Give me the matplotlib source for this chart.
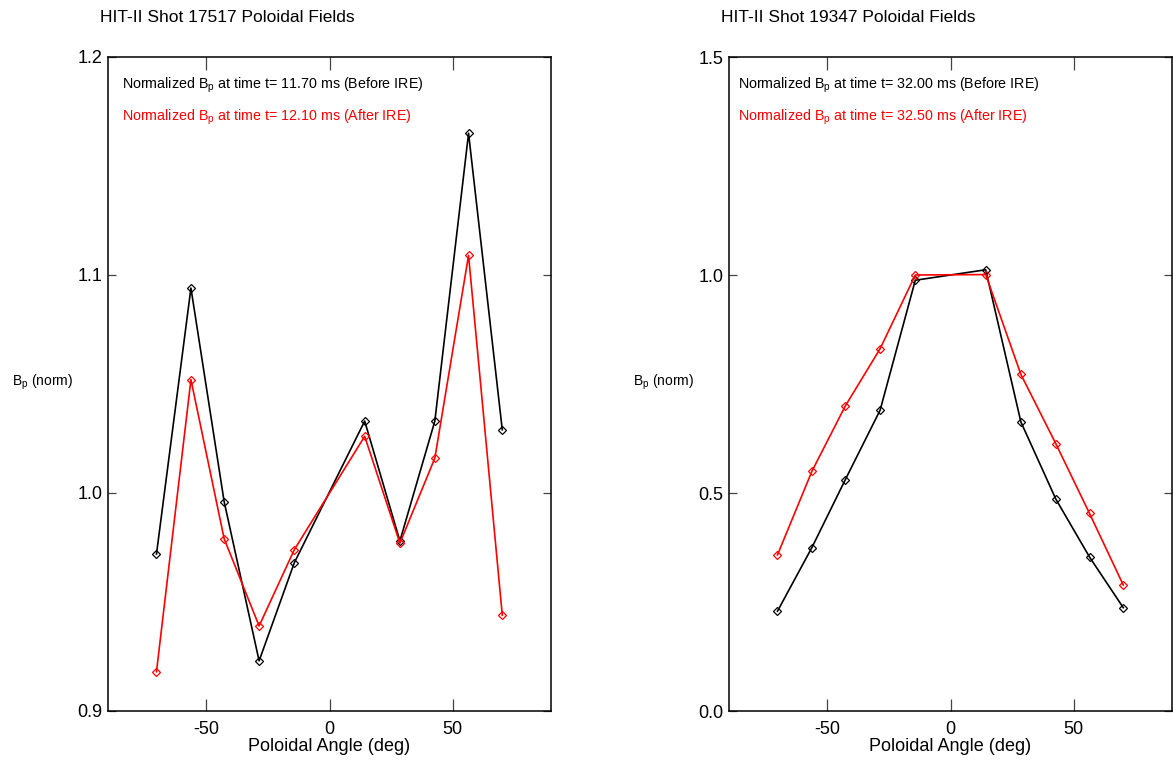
import matplotlib.pyplot as plt
import numpy as np

plt.rcParams["font.family"] = ["Liberation Sans", "DejaVu Sans"]
plt.rcParams["mathtext.fontset"] = "custom"
plt.rcParams["mathtext.rm"] = "Liberation Sans"
plt.rcParams["mathtext.it"] = "Liberation Sans:italic"
plt.rcParams["axes.unicode_minus"] = False

# poloidal probe angles (deg)
angles = [-70.3, -56.3, -42.8, -28.6, -14.3, 14.3, 28.6, 42.8, 56.5, 70.2]

# shot 17517
before_17517 = [0.972, 1.094, 0.996, 0.923, 0.968, 1.033, 0.978, 1.033, 1.165, 1.029]
after_17517 = [0.918, 1.052, 0.979, 0.939, 0.974, 1.026, 0.977, 1.016, 1.109, 0.944]

# shot 19347
before_19347 = [0.229, 0.375, 0.530, 0.690, 0.988, 1.012, 0.663, 0.486, 0.353, 0.237]
after_19347 = [0.358, 0.550, 0.699, 0.831, 1.000, 1.001, 0.772, 0.613, 0.453, 0.289]

panels = [
    dict(title="HIT-II Shot 17517 Poloidal Fields", before=before_17517, after=after_17517,
         t_before="11.70", t_after="12.10", ylim=(0.9, 1.2), yticks=[0.9, 1.0, 1.1, 1.2],
         left=108, textx=0.032),
    dict(title="HIT-II Shot 19347 Poloidal Fields", before=before_19347, after=after_19347,
         t_before="32.00", t_after="32.50", ylim=(0.0, 1.5), yticks=[0.0, 0.5, 1.0, 1.5],
         left=729, textx=0.020),
]

W, H = 1173, 760
fig = plt.figure(figsize=(W / 100, H / 100), dpi=100)

for p in panels:
    ax = fig.add_axes([p["left"] / W, 49 / H, 443 / W, 654 / H])
    mk = dict(marker="D", markersize=4.2, markerfacecolor="none", markeredgewidth=0.9)
    ax.plot(angles, p["before"], color="black", lw=1.2, **mk)
    ax.plot(angles, p["after"], color="red", lw=1.2, **mk)

    ax.set_xlim(-90, 90)
    ax.set_ylim(*p["ylim"])
    ax.set_xticks([-50, 0, 50])
    ax.set_yticks(p["yticks"])
    ax.set_yticklabels(["{:.1f}".format(v) for v in p["yticks"]])
    ax.tick_params(axis="x", direction="in", length=9, width=0.9, top=True,
                   labelsize=13, pad=7, color="#444444")
    ax.tick_params(axis="y", direction="in", length=6, width=0.9, right=True,
                   labelsize=13, pad=4, color="#444444")
    for s in ax.spines.values():
        s.set_linewidth(1.1)
    ax.set_xlabel("Poloidal Angle (deg)", fontsize=13, labelpad=0)

    ax.text(p["textx"], 0.957,
            r"Normalized B$_{\rm p}$ at time t= " + p["t_before"] + " ms (Before IRE)",
            transform=ax.transAxes, fontsize=10.3, color="black", va="center", ha="left")
    ax.text(p["textx"], 0.908,
            r"Normalized B$_{\rm p}$ at time t= " + p["t_after"] + " ms (After IRE)",
            transform=ax.transAxes, fontsize=10.3, color="red", va="center", ha="left")

    fig.text((p["left"] - 8) / W, 1 - 17 / H, p["title"], fontsize=12.5,
             ha="left", va="center")
    fig.text((p["left"] - 96) / W, 1 - 382 / H, r"B$_{\rm p}$ (norm)", fontsize=10,
             ha="left", va="center")

fig.savefig("out.png", dpi=100)
